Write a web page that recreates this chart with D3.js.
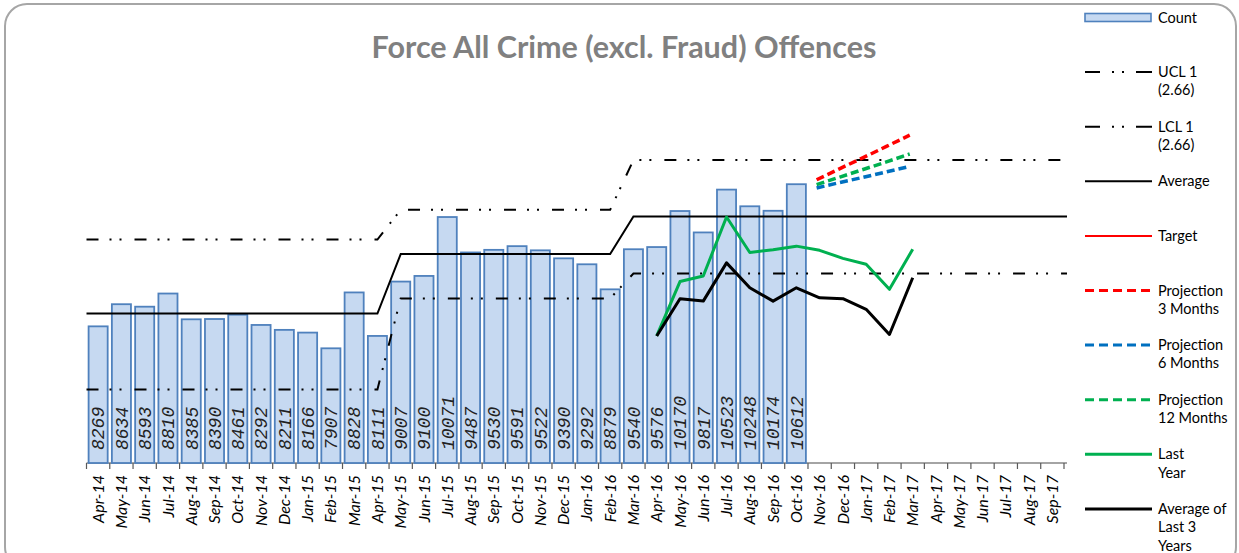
<!DOCTYPE html>
<html>
<head>
<meta charset="utf-8">
<script src="https://cdn.jsdelivr.net/npm/d3@7"></script>
<style>
  body { margin: 0; background: #fff; }
  svg { display: block; }
</style>
</head>
<body>
<div id="chart"></div>
<script>
// Force All Crime (excl. Fraud) Offences — SPC chart

const months = ["Apr-14","May-14","Jun-14","Jul-14","Aug-14","Sep-14","Oct-14","Nov-14","Dec-14","Jan-15","Feb-15","Mar-15",
                "Apr-15","May-15","Jun-15","Jul-15","Aug-15","Sep-15","Oct-15","Nov-15","Dec-15","Jan-16","Feb-16","Mar-16",
                "Apr-16","May-16","Jun-16","Jul-16","Aug-16","Sep-16","Oct-16","Nov-16","Dec-16","Jan-17","Feb-17","Mar-17",
                "Apr-17","May-17","Jun-17","Jul-17","Aug-17","Sep-17"];

const counts = [8269, 8634, 8593, 8810, 8385, 8390, 8461, 8292, 8211, 8166, 7907, 8828,
                8111, 9007, 9100, 10071, 9487, 9530, 9591, 9522, 9390, 9292, 8879, 9540,
                9576, 10170, 9817, 10523, 10248, 10174, 10612];

// control limits, one value per month
const ucl = [9700, 9700, 9700, 9700, 9700, 9700, 9700, 9700, 9700, 9700, 9700, 9700, 9700,
             10190, 10190, 10190, 10190, 10190, 10190, 10190, 10190, 10190, 10190,
             11010, 11010, 11010, 11010, 11010, 11010, 11010, 11010, 11010, 11010,
             11010, 11010, 11010, 11010, 11010, 11010, 11010, 11010, 11010];
const average = [8480, 8480, 8480, 8480, 8480, 8480, 8480, 8480, 8480, 8480, 8480, 8480, 8480,
                 9460, 9460, 9460, 9460, 9460, 9460, 9460, 9460, 9460, 9460,
                 10080, 10080, 10080, 10080, 10080, 10080, 10080, 10080, 10080, 10080,
                 10080, 10080, 10080, 10080, 10080, 10080, 10080, 10080, 10080];
const lcl = [7230, 7230, 7230, 7230, 7230, 7230, 7230, 7230, 7230, 7230, 7230, 7230, 7230,
             8730, 8730, 8730, 8730, 8730, 8730, 8730, 8730, 8730, 8730,
             9140, 9140, 9140, 9140, 9140, 9140, 9140, 9140, 9140, 9140,
             9140, 9140, 9140, 9140, 9140, 9140, 9140, 9140, 9140];

// Apr-16 .. Mar-17
const compMonths = ["Apr-16","May-16","Jun-16","Jul-16","Aug-16","Sep-16","Oct-16","Nov-16","Dec-16","Jan-17","Feb-17","Mar-17"];
const lastYear   = [8111, 9007, 9100, 10071, 9487, 9530, 9591, 9522, 9390, 9292, 8879, 9540];
const avg3Years  = [8110, 8725, 8685, 9315, 8905, 8685, 8905, 8740, 8725, 8550, 8135, 9070];

// Nov-16 .. Mar-17
const projMonths = ["Nov-16","Dec-16","Jan-17","Feb-17","Mar-17"];
const proj3  = [10685, 10870, 11050, 11235, 11420];
const proj6  = [10550, 10640, 10725, 10815, 10905];
const proj12 = [10605, 10730, 10855, 10980, 11110];

const largeur = 1239, hauteur = 553;
const gauche = 86.5, droite = 1064, haut = 100, bas = 464;

const svg = d3.select("#chart").append("svg")
    .attr("width", largeur).attr("height", hauteur);

// cadre arrondi
svg.append("rect")
    .attr("x", 5).attr("y", 4).attr("width", 1231).attr("height", 565)
    .attr("rx", 22).attr("fill", "#fff")
    .attr("stroke", "#a6a6a6").attr("stroke-width", 2);

const x = d3.scaleBand().domain(months).range([gauche, droite])
    .paddingInner(0.18).paddingOuter(0.09);
const cx = m => x(m) + x.bandwidth() / 2;
const y = d3.scaleLinear().domain([6000, 12000]).range([bas, haut]);

svg.append("text")
    .attr("x", 624).attr("y", 58)
    .attr("text-anchor", "middle")
    .attr("font-family", "Lato, sans-serif").attr("font-weight", "bold")
    .attr("font-size", 30.5).attr("fill", "#808080")
    .text("Force All Crime (excl. Fraud) Offences");

// axe X
const gx = svg.append("g");
gx.append("line")
    .attr("x1", gauche).attr("x2", droite + 3)
    .attr("y1", bas - 1).attr("y2", bas - 1)
    .attr("stroke", "#868686").attr("stroke-width", 1.5);
const bornes = months.map(m => cx(m) - x.step() / 2).concat([cx(months[months.length - 1]) + x.step() / 2]);
gx.selectAll(".tick").data(bornes).join("line")
    .attr("x1", d => d).attr("x2", d => d)
    .attr("y1", bas - 1).attr("y2", bas + 5)
    .attr("stroke", "#595959").attr("stroke-width", 1.2);
gx.selectAll(".lab").data(months).join("text")
    .attr("transform", d => `translate(${cx(d)},${bas + 11}) rotate(-90)`)
    .attr("text-anchor", "end").attr("dy", "0.35em")
    .attr("font-family", "Lato, sans-serif").attr("font-style", "italic")
    .attr("font-size", 16).attr("fill", "#000")
    .text(d => d);

// barres
svg.selectAll(".bar").data(counts).join("rect")
    .attr("x", (d, i) => x(months[i]))
    .attr("width", x.bandwidth())
    .attr("y", d => y(d))
    .attr("height", d => y(6000) - y(d) - 1)
    .attr("fill", "#c6d9f1").attr("stroke", "#4f81bd").attr("stroke-width", 1.8);

svg.selectAll(".val").data(counts).join("text")
    .attr("transform", (d, i) => `translate(${cx(months[i])},${bas - 14}) rotate(-90)`)
    .attr("dy", "0.35em")
    .attr("font-family", "'Liberation Mono', monospace").attr("font-style", "italic")
    .attr("font-size", 18).attr("fill", "#222")
    .text(d => d);

// lignes de contrôle, prolongées jusqu'aux bords
const ligne = d3.line().x(d => d[0]).y(d => y(d[1]));
const etendre = vals => [[gauche, vals[0]]]
    .concat(vals.map((v, i) => [cx(months[i]), v]))
    .concat([[droite + 3, vals[vals.length - 1]]]);
const tiretPoint = "12,11,2,8,2,13";

svg.append("path").attr("d", ligne(etendre(ucl)))
    .attr("fill", "none").attr("stroke", "#000").attr("stroke-width", 2)
    .attr("stroke-dasharray", tiretPoint);
svg.append("path").attr("d", ligne(etendre(lcl)))
    .attr("fill", "none").attr("stroke", "#000").attr("stroke-width", 2)
    .attr("stroke-dasharray", tiretPoint);
svg.append("path").attr("d", ligne(etendre(average)))
    .attr("fill", "none").attr("stroke", "#000").attr("stroke-width", 2);

// année dernière / moyenne 3 ans
svg.append("path").attr("d", ligne(lastYear.map((v, i) => [cx(compMonths[i]), v])))
    .attr("fill", "none").attr("stroke", "#00b050").attr("stroke-width", 3)
    .attr("stroke-linejoin", "round");
svg.append("path").attr("d", ligne(avg3Years.map((v, i) => [cx(compMonths[i]), v])))
    .attr("fill", "none").attr("stroke", "#000").attr("stroke-width", 3)
    .attr("stroke-linejoin", "round");

// projections
[[proj3, "#ff0000"], [proj12, "#00b050"], [proj6, "#0070c0"]].forEach(([vals, c]) => {
    svg.append("path").attr("d", ligne(vals.map((v, i) => [cx(projMonths[i]) - 3, v])))
        .attr("fill", "none").attr("stroke", c).attr("stroke-width", 3.5)
        .attr("stroke-dasharray", "8,4");
});

// légende
const legende = [
    { lignes: ["Count"], type: "bar" },
    { lignes: ["UCL 1", "(2.66)"], type: "dd", c: "#000", w: 2 },
    { lignes: ["LCL 1", "(2.66)"], type: "dd", c: "#000", w: 2 },
    { lignes: ["Average"], type: "solid", c: "#000", w: 2 },
    { lignes: ["Target"], type: "solid", c: "#ff0000", w: 2 },
    { lignes: ["Projection", "3 Months"], type: "dash", c: "#ff0000", w: 3 },
    { lignes: ["Projection", "6 Months"], type: "dash", c: "#0070c0", w: 3 },
    { lignes: ["Projection", "12 Months"], type: "dash", c: "#00b050", w: 3 },
    { lignes: ["Last", "Year"], type: "solid", c: "#00b050", w: 3 },
    { lignes: ["Average of", "Last 3", "Years"], type: "solid", c: "#000", w: 3 }
];
const gl = svg.append("g");
legende.forEach((d, i) => {
    const ly = 17.5 + i * 54.6;
    if (d.type === "bar") {
        gl.append("rect").attr("x", 1085).attr("y", ly - 4).attr("width", 66).attr("height", 8)
            .attr("fill", "#c6d9f1").attr("stroke", "#4f81bd").attr("stroke-width", 1.6);
    } else {
        gl.append("line").attr("x1", 1085).attr("x2", 1152).attr("y1", ly).attr("y2", ly)
            .attr("stroke", d.c).attr("stroke-width", d.w)
            .attr("stroke-dasharray", d.type === "dd" ? "15,12,2,8,2,12,17" : d.type === "dash" ? "9,5" : null);
    }
    gl.append("text").attr("x", 1158).attr("y", ly + 5)
        .attr("font-family", "Lato, sans-serif").attr("font-size", 14.5).attr("fill", "#000")
        .selectAll("tspan").data(d.lignes).join("tspan")
        .attr("x", 1158).attr("dy", (t, j) => j === 0 ? 0 : 18.3)
        .text(t => t);
});
</script>
</body>
</html>
